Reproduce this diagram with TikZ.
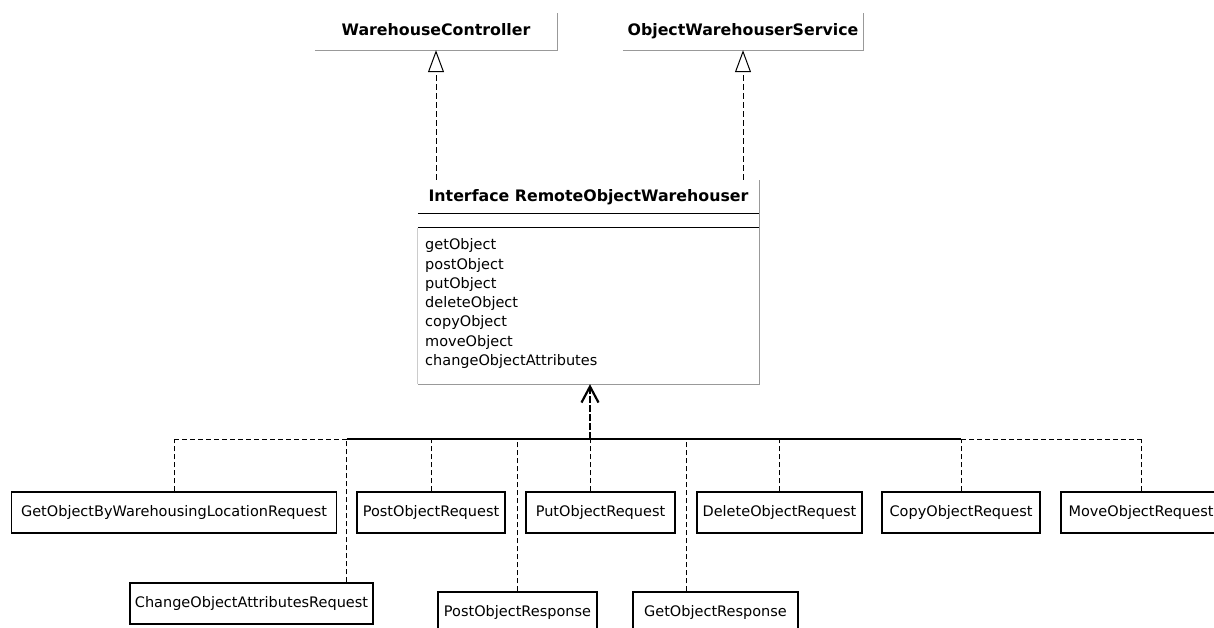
\documentclass[tikz,border=0pt]{standalone}
\usepackage{fontspec}
\setmainfont{DejaVu Sans}
\usetikzlibrary{arrows.meta}
\begin{document}
\begin{tikzpicture}[x=1pt,y=-1pt,
  boldlabel/.style={font=\fontsize{15.8}{19}\selectfont\bfseries},
  plainlabel/.style={font=\fontsize{14.5}{19}\selectfont},
  header/.style={minimum height=37pt, inner sep=0pt, text height=11.5pt, text depth=3.5pt, boldlabel},
  shadowedge/.style={draw=black!40, line width=1.1pt},
  clsbox/.style={draw, line width=1.2pt, minimum height=41pt, inner sep=0pt, text height=11pt, text depth=3.5pt, plainlabel},
  dep/.style={line width=0.9pt, dash pattern=on 5pt off 3pt},
  bus/.style={line width=1.2pt},
  impl/.style={line width=0.9pt, dash pattern=on 6pt off 3pt,
    -{Triangle[open, length=22pt, width=16pt, line width=1pt]}},
  realize/.style={line width=2pt, dash pattern=on 7pt off 2pt,
    -{Straight Barb[length=16pt, width=17pt, line width=2.2pt]}}]

\useasboundingbox (0,0) rectangle (1214,628);
\clip (0,0) rectangle (1214,628);

% supertypes
\node[header, minimum width=242pt] (wc) at (436,31.5) {WarehouseController};
\node[header, minimum width=240pt] (ows) at (743,31.5) {ObjectWarehouserService};
\draw[shadowedge] (wc.south west) -- (wc.south east) -- (wc.north east);
\draw[shadowedge] (ows.south west) -- (ows.south east) -- (ows.north east);

% the interface class
\node[minimum width=341pt, minimum height=204pt, inner sep=0pt] (iface) at (588.5,282) {};
\node[boldlabel, anchor=base] (ititle) at (588.5,202) {Interface RemoteObjectWarehouser};
\draw[line width=1.3pt] ([yshift=-34pt]iface.north west) -- ([yshift=-34pt]iface.north east);
\draw[line width=1.3pt] ([yshift=-48pt]iface.north west) -- ([yshift=-48pt]iface.north east);
\draw[draw=black!20, line width=1pt] ([yshift=-48pt]iface.north west) -- (iface.south west);
\draw[shadowedge] (iface.south west) -- (iface.south east) -- (iface.north east);
\foreach \m [count=\i] in {getObject,postObject,putObject,deleteObject,copyObject,moveObject,changeObjectAttributes}
  \node[plainlabel, anchor=base west, inner sep=0pt] (m\i) at (425,{250+19.2*(\i-1)}) {\m};

% realizations of the supertypes
\draw[impl] (iface.north -| wc.south) -- (wc.south);
\draw[impl] (iface.north -| ows.south) -- (ows.south);

% message classes
\node[clsbox, minimum width=325pt] (getloc)   at (174,512.5)   {GetObjectByWarehousingLocationRequest};
\node[clsbox, minimum width=243pt] (change)   at (251.5,603.5) {ChangeObjectAttributesRequest};
\node[clsbox, minimum width=148pt] (postreq)  at (431,512.5)   {PostObjectRequest};
\node[clsbox, minimum width=159pt] (postresp) at (517.5,612.5) {PostObjectResponse};
\node[clsbox, minimum width=149pt] (put)      at (600.5,512.5) {PutObjectRequest};
\node[clsbox, minimum width=165pt] (getresp)  at (715.5,612.5) {GetObjectResponse};
\node[clsbox, minimum width=165pt] (delete)   at (779.5,512.5) {DeleteObjectRequest};
\node[clsbox, minimum width=158pt] (copy)     at (961,512.5)   {CopyObjectRequest};
\node[clsbox, minimum width=160pt] (move)     at (1141,512.5)  {MoveObjectRequest};

% junction on the shared line
\coordinate (hub) at (590,439);
\coordinate (cT) at ([xshift=-27pt]change.north east);
\coordinate (pT) at ([xshift=-10.5pt]put.north);
\coordinate (gT) at ([xshift=-29.5pt]getresp.north);

\draw[dep] (getloc.north) -- (getloc.north |- hub);
\draw[dep] (cT) -- (cT |- hub);
\draw[dep] (postreq.north) -- (postreq.north |- hub);
\draw[dep] (postresp.north) -- (postresp.north |- hub);
\draw[dep] (pT) -- (pT |- hub);
\draw[dep] (gT) -- (gT |- hub);
\draw[dep] (delete.north) -- (delete.north |- hub);
\draw[dep] (copy.north) -- (copy.north |- hub);
\draw[dep] (move.north) -- (move.north |- hub);

\draw[dep] (getloc.north |- hub) -- (cT |- hub);
\draw[bus] (cT |- hub) -- (copy.north |- hub);
\draw[dep] (copy.north |- hub) -- (move.north |- hub);

\draw[realize] (hub) -- (hub |- iface.south);
\end{tikzpicture}
\end{document}
